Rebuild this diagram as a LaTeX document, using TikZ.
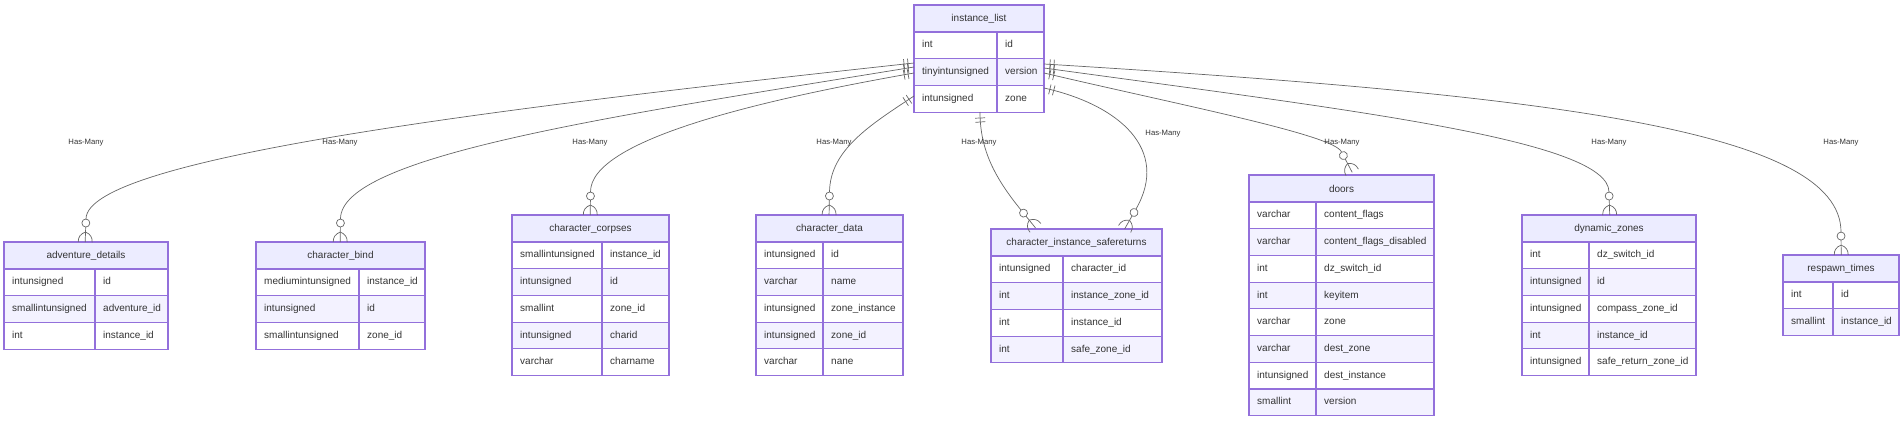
\documentclass[tikz,border=0pt]{standalone}
\usepackage{fontspec}
\setmainfont{Liberation Sans}
\usetikzlibrary{positioning,calc,decorations.markings}
\definecolor{erBorder}{HTML}{9370DB}
\definecolor{erHead}{HTML}{ECECFF}
\definecolor{erRow}{HTML}{F3F2FF}
\definecolor{erText}{HTML}{333333}
\definecolor{erEdge}{HTML}{666666}

\tikzset{
  erbox/.style={draw=erBorder, line width=1.2pt},
  erhead/.style={erbox, fill=erHead, inner sep=0pt, outer sep=0pt, text=erText,
    font=\fontsize{10}{12}\selectfont},
  ertext/.style={inner sep=0pt, text=erText, font=\fontsize{10}{12}\selectfont,
    text height=7.3pt, text depth=2.1pt},
  relabel/.style={text=erText, font=\fontsize{7.7}{9}\selectfont},
  rel/.style={draw=erEdge, line width=0.7pt,
    decoration={markings,
      mark=at position 6pt with {\draw[erEdge, line width=0.7pt] (0pt,-5pt) -- (0pt,5pt);},
      mark=at position 10pt with {\draw[erEdge, line width=0.7pt] (0pt,-5pt) -- (0pt,5pt);},
      mark=at position -0.5pt with {
        \draw[erEdge, line width=0.7pt, fill=white] (4.5pt,0pt) circle (4pt);
        \draw[erEdge, line width=0.7pt] (8.5pt,0pt) -- (23.5pt,0pt);
        \draw[erEdge, line width=0.7pt] (13.5pt,0pt) .. controls (15.5pt,5pt) and (18.5pt,7pt) .. (23.5pt,7pt);
        \draw[erEdge, line width=0.7pt] (13.5pt,0pt) .. controls (15.5pt,-5pt) and (18.5pt,-7pt) .. (23.5pt,-7pt);
      }},
    postaction=decorate}
}

% entity table: name, left, top, divider, right, title, rows
\newcommand{\erentity}[7]{%
  \node[erhead, anchor=north west, minimum width={(#5-#2)*1pt}, minimum height=27pt] (#1) at (#2,#3) {#6};
  \foreach \ctype/\cfield [count=\i] in {#7} {
    \pgfmathsetmacro{\ya}{#3+27+(\i-1)*26.7}
    \pgfmathsetmacro{\yb}{\ya+26.7}
    \pgfmathsetmacro{\ym}{\ya+13.35}
    \ifodd\i \def\rowfill{white}\else \def\rowfill{erRow}\fi
    \filldraw[erbox, fill=\rowfill] (#2,\ya) rectangle (#4,\yb);
    \filldraw[erbox, fill=\rowfill] (#4,\ya) rectangle (#5,\yb);
    \node[ertext, anchor=west] (#1-t\i) at (#2+8,\ym) {\ctype};
    \node[ertext, anchor=west] (#1-f\i) at (#4+8,\ym) {\cfield};
  }%
}

\begin{document}
\begin{tikzpicture}[x=1pt, y=-1pt]
\useasboundingbox (0,0) rectangle (1904,421);

% tables
\erentity{il}{914}{5}{997}{1044}{instance\_list}{int/id, tinyintunsigned/version, intunsigned/zone}
\erentity{ad}{4}{242}{95}{168}{adventure\_details}{intunsigned/id, smallintunsigned/adventure\_id, int/instance\_id}
\erentity{cb}{256}{242}{359}{425}{character\_bind}{mediumintunsigned/instance\_id, intunsigned/id, smallintunsigned/zone\_id}
\erentity{cc}{512}{215}{602}{669}{character\_corpses}{smallintunsigned/instance\_id, intunsigned/id, smallint/zone\_id, intunsigned/charid, varchar/charname}
\erentity{cd}{756}{215}{823}{903}{character\_data}{intunsigned/id, varchar/name, intunsigned/zone\_instance, intunsigned/zone\_id, varchar/nane}
\erentity{cs}{991}{229}{1063}{1162}{character\_instance\_safereturns}{intunsigned/character\_id, int/instance\_zone\_id, int/instance\_id, int/safe\_zone\_id}
\erentity{dr}{1249}{175}{1316}{1434}{doors}{varchar/content\_flags, varchar/content\_flags\_disabled, int/dz\_switch\_id, int/keyitem, varchar/zone, varchar/dest\_zone, intunsigned/dest\_instance, smallint/version}
\erentity{dz}{1522}{215}{1589}{1696}{dynamic\_zones}{int/dz\_switch\_id, intunsigned/id, intunsigned/compass\_zone\_id, int/instance\_id, intunsigned/safe\_return\_zone\_id}
\erentity{rt}{1783}{255}{1833}{1899}{respawn\_times}{int/id, smallint/instance\_id}

% relation ends on instance_list
\coordinate (il-w1) at (914,63);
\coordinate (il-w2) at (914,67);
\coordinate (il-w3) at (914,73);
\coordinate (il-w4) at (914,96);
\coordinate (il-s) at (980,112);
\coordinate (il-e1) at (1044,64);
\coordinate (il-e2) at (1044,68);
\coordinate (il-e3) at (1044,73);
\coordinate (il-e4) at (1044,88);

% relations
\draw[rel] (il-w1) .. controls (500,108) and (86,158) .. ([yshift=23pt]ad.north);
\draw[rel] (il-w2) .. controls (620,115) and (340,155) .. ([yshift=23pt]cb.north);
\draw[rel] (il-w3) .. controls (760,100) and (590,140) .. ([yshift=23pt]cc.north);
\draw[rel] (il-w4) .. controls (870,125) and (830,150) .. ([yshift=23pt]cd.north);
\draw[rel] (il-s) .. controls (980,150) and (995,178) .. ([xshift=-55.5pt,yshift=19pt]cs.north);
\draw[rel] (il-e4) .. controls (1120,105) and (1170,150) .. ([xshift=59.5pt,yshift=20pt]cs.north);
\draw[rel] (il-e3) .. controls (1180,105) and (1335,135) .. ([yshift=23pt]dr.north);
\draw[rel] (il-e2) .. controls (1350,110) and (1609,140) .. ([yshift=23pt]dz.north);
\draw[rel] (il-e1) .. controls (1550,95) and (1841,130) .. ([yshift=23pt]rt.north);

% labels
\node[relabel] (lab-ad) at (86,143) {Has-Many};
\node[relabel] (lab-cb) at (340,143) {Has-Many};
\node[relabel] (lab-cc) at (590,143) {Has-Many};
\node[relabel] (lab-cd) at (834,143) {Has-Many};
\node[relabel] (lab-cs1) at (979,143) {Has-Many};
\node[relabel] (lab-cs2) at (1163,134) {Has-Many};
\node[relabel] (lab-dr) at (1342,143) {Has-Many};
\node[relabel] (lab-dz) at (1609,143) {Has-Many};
\node[relabel] (lab-rt) at (1841,143) {Has-Many};
\end{tikzpicture}
\end{document}
